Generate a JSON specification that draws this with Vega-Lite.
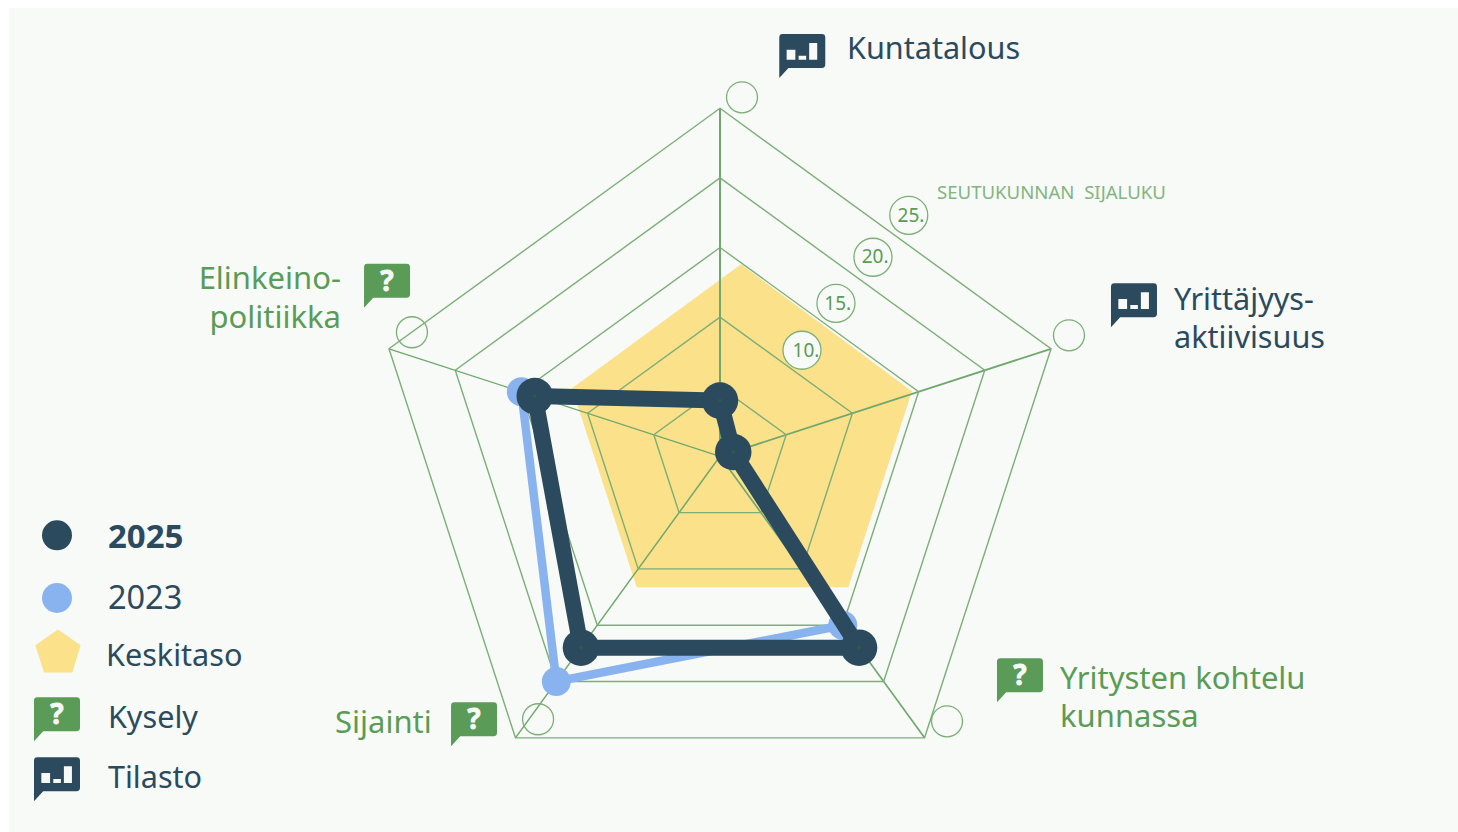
{
"$schema":"https://vega.github.io/schema/vega-lite/v6.json",
"width":1458,"height":832,"padding":0,
"autosize":{"type":"none"},
"background":"#ffffff",
"view":{"stroke":null},
"datasets":{
"panel":[{"x":-51.08,"x2":53.017,"y":32.18,"y2":-27.011}],
"average":[
{"i":1,"axis":"Kuntatalous","x":1.51,"y":13.79},
{"i":2,"axis":"Yrittäjyysaktiivisuus","x":13.79,"y":4.67},
{"i":3,"axis":"Yritysten kohtelu kunnassa","x":9.22,"y":-9.41},
{"i":4,"axis":"Sijainti","x":-5.98,"y":-9.41},
{"i":5,"axis":"Elinkeinopolitiikka","x":-10.63,"y":4.89}],
"legendAverage":[
{"i":1,"x":-47.56,"y":-12.45},
{"i":2,"x":-45.93,"y":-13.58},
{"i":3,"x":-46.53,"y":-15.54},
{"i":4,"x":-48.56,"y":-15.54},
{"i":5,"x":-49.19,"y":-13.58}],
"rings":[
{"ring":5,"i":1,"x":0,"y":5},{"ring":5,"i":2,"x":4.755,"y":1.545},{"ring":5,"i":3,"x":2.939,"y":-4.045},{"ring":5,"i":4,"x":-2.939,"y":-4.045},{"ring":5,"i":5,"x":-4.755,"y":1.545},
{"ring":10,"i":1,"x":0,"y":10},{"ring":10,"i":2,"x":9.511,"y":3.09},{"ring":10,"i":3,"x":5.878,"y":-8.09},{"ring":10,"i":4,"x":-5.878,"y":-8.09},{"ring":10,"i":5,"x":-9.511,"y":3.09},
{"ring":15,"i":1,"x":0,"y":15},{"ring":15,"i":2,"x":14.27,"y":4.635},{"ring":15,"i":3,"x":8.817,"y":-12.135},{"ring":15,"i":4,"x":-8.817,"y":-12.135},{"ring":15,"i":5,"x":-14.27,"y":4.635},
{"ring":20,"i":1,"x":0,"y":20},{"ring":20,"i":2,"x":19.02,"y":6.18},{"ring":20,"i":3,"x":11.756,"y":-16.18},{"ring":20,"i":4,"x":-11.756,"y":-16.18},{"ring":20,"i":5,"x":-19.02,"y":6.18},
{"ring":25,"i":1,"x":0,"y":25},{"ring":25,"i":2,"x":23.78,"y":7.725},{"ring":25,"i":3,"x":14.695,"y":-20.225},{"ring":25,"i":4,"x":-14.695,"y":-20.225},{"ring":25,"i":5,"x":-23.78,"y":7.725}],
"spokes":[
{"axis":"Kuntatalous","i":1,"x":0,"y":0},{"axis":"Kuntatalous","i":2,"x":0,"y":25},
{"axis":"Yrittäjyysaktiivisuus","i":1,"x":0,"y":0},{"axis":"Yrittäjyysaktiivisuus","i":2,"x":23.78,"y":7.725},
{"axis":"Yritysten kohtelu kunnassa","i":1,"x":0,"y":0},{"axis":"Yritysten kohtelu kunnassa","i":2,"x":14.695,"y":-20.225},
{"axis":"Sijainti","i":1,"x":0,"y":0},{"axis":"Sijainti","i":2,"x":-14.695,"y":-20.225},
{"axis":"Elinkeinopolitiikka","i":1,"x":0,"y":0},{"axis":"Elinkeinopolitiikka","i":2,"x":-23.78,"y":7.725}],
"y2023":[
{"axis":"Kuntatalous","rank":4,"i":1,"x":0,"y":4},
{"axis":"Yrittäjyysaktiivisuus","rank":1,"i":2,"x":0.951,"y":0.309},
{"axis":"Yritysten kohtelu kunnassa","rank":15,"i":3,"x":8.817,"y":-12.135},
{"axis":"Sijainti","rank":20,"i":4,"x":-11.756,"y":-16.18},
{"axis":"Elinkeinopolitiikka","rank":15,"i":5,"x":-14.27,"y":4.635}],
"y2025":[
{"axis":"Kuntatalous","rank":4,"i":1,"x":0,"y":4},
{"axis":"Yrittäjyysaktiivisuus","rank":1,"i":2,"x":0.951,"y":0.309},
{"axis":"Yritysten kohtelu kunnassa","rank":17,"i":3,"x":9.99,"y":-13.75},
{"axis":"Sijainti","rank":17,"i":4,"x":-9.99,"y":-13.75},
{"axis":"Elinkeinopolitiikka","rank":14,"i":5,"x":-13.31,"y":4.33}],
"emptyCircles":[
{"axis":"Kuntatalous","x":1.58,"y":25.79},
{"axis":"Yrittäjyysaktiivisuus","x":25.07,"y":8.69},
{"axis":"Yritysten kohtelu kunnassa","x":16.31,"y":-19.04},
{"axis":"Sijainti","x":-13.07,"y":-18.89},
{"axis":"Elinkeinopolitiikka","x":-22.13,"y":8.91}],
"rankCircles":[
{"x":13.56,"y":17.31},{"x":10.99,"y":14.30},{"x":8.33,"y":10.99},{"x":5.89,"y":7.62}],
"rankLabels":[
{"label":"25.","x":13.72,"y":16.83},{"label":"20.","x":11.14,"y":13.89},{"label":"15.","x":8.46,"y":10.49},{"label":"10.","x":6.18,"y":7.13}],
"bubblesGreen":[
{"name":"Yritysten kohtelu kunnassa","x":21.55,"y":-16.09},
{"name":"Sijainti","x":-17.67,"y":-19.25},
{"name":"Elinkeinopolitiikka","x":-23.92,"y":12.25},
{"name":"Kysely","x":-47.63,"y":-18.89}],
"questionMarks":[
{"label":"?","x":21.55,"y":-16.45},
{"label":"?","x":-17.67,"y":-19.61},
{"label":"?","x":-23.92,"y":11.89},
{"label":"?","x":-47.63,"y":-19.25}],
"bubblesDark":[
{"name":"Kuntatalous","x":5.91,"y":28.76},
{"name":"Yrittäjyysaktiivisuus","x":29.74,"y":10.85},
{"name":"Tilasto","x":-47.63,"y":-23.20}],
"darkText":[
{"label":"Kuntatalous","x":9.12,"y":28.52},
{"label":"Yrittäjyys-","x":32.62,"y":10.49},
{"label":"aktiivisuus","x":32.62,"y":7.76},
{"label":"Keskitaso","x":-44.11,"y":-15.09},
{"label":"Kysely","x":-43.97,"y":-19.54},
{"label":"Tilasto","x":-43.97,"y":-23.85}],
"yearText":[{"label":"2023","x":-43.97,"y":-10.99}],
"greenLeft":[
{"label":"Yritysten kohtelu","x":24.43,"y":-16.74},
{"label":"kunnassa","x":24.43,"y":-19.47},
{"label":"Sijainti","x":-27.66,"y":-19.90}],
"greenRight":[
{"label":"Elinkeino-","x":-27.23,"y":12.00},
{"label":"politiikka","x":-27.23,"y":9.23}],
"boldText":[{"label":"2025","x":-43.97,"y":-6.61}],
"axisTitle":[{"label":"SEUTUKUNNAN\u00a0\u00a0SIJALUKU","x":15.59,"y":18.46}],
"legend2025":[{"x":-47.63,"y":-5.68}],
"legend2023":[{"x":-47.63,"y":-10.18}]
},
"encoding":{
"x":{"field":"x","type":"quantitative","axis":null,"scale":{"domain":[-51.724,53.017],"nice":false,"zero":false}},
"y":{"field":"y","type":"quantitative","axis":null,"scale":{"domain":[-26.99,32.78],"nice":false,"zero":false}}
},
"layer":[
{"data":{"name":"panel"},"mark":{"type":"rect","fill":"#f7faf6"},"encoding":{"x2":{"field":"x2"},"y2":{"field":"y2"}}},
{"data":{"name":"average"},"mark":{"type":"line","interpolate":"linear-closed","fill":"#fae18a","stroke":"#fae18a","strokeWidth":0},"encoding":{"order":{"field":"i"}}},
{"data":{"name":"legendAverage"},"mark":{"type":"line","interpolate":"linear-closed","fill":"#fae18a","stroke":"#fae18a","strokeWidth":0},"encoding":{"order":{"field":"i"}}},
{"data":{"name":"spokes"},"mark":{"type":"line","stroke":"#6fa76c"},"encoding":{"detail":{"field":"axis"},"order":{"field":"i"},"strokeWidth":{"field":"axis","type":"nominal","legend":null,"scale":{"domain":["Kuntatalous","Yrittäjyysaktiivisuus","Yritysten kohtelu kunnassa","Sijainti","Elinkeinopolitiikka"],"range":[2,1.3,1.3,1.3,1.3]}}}},
{"data":{"name":"rings"},"mark":{"type":"line","interpolate":"linear-closed","stroke":"#7cae78","strokeWidth":1.4},"encoding":{"detail":{"field":"ring"},"order":{"field":"i"}}},
{"data":{"name":"emptyCircles"},"mark":{"type":"point","shape":"circle","filled":false,"stroke":"#7cae78","strokeWidth":1.3,"size":961,"opacity":1}},
{"data":{"name":"rankCircles"},"mark":{"type":"point","shape":"circle","filled":true,"fill":"#f7faf6","stroke":"#7cae78","strokeWidth":1.3,"size":1444,"opacity":1}},
{"data":{"name":"rankLabels"},"mark":{"type":"text","font":"Noto Sans","fontSize":19,"align":"center","baseline":"alphabetic","fill":"#5a9b57"},"encoding":{"text":{"field":"label"}}},
{"data":{"name":"axisTitle"},"mark":{"type":"text","font":"Noto Sans","fontSize":18.6,"align":"left","baseline":"alphabetic","fill":"#84b481"},"encoding":{"text":{"field":"label"}}},
{"data":{"name":"y2023"},"mark":{"type":"line","interpolate":"linear-closed","stroke":"#89b3ef","strokeWidth":8.5},"encoding":{"order":{"field":"i"}}},
{"data":{"name":"y2023"},"mark":{"type":"point","shape":"circle","filled":true,"fill":"#89b3ef","size":841,"opacity":1}},
{"data":{"name":"y2025"},"mark":{"type":"line","interpolate":"linear-closed","stroke":"#2c4a5e","strokeWidth":16},"encoding":{"order":{"field":"i"}}},
{"data":{"name":"y2025"},"mark":{"type":"point","shape":"circle","filled":true,"fill":"#2c4a5e","size":1332,"opacity":1}},
{"data":{"name":"y2025"},"mark":{"type":"point","shape":"circle","filled":true,"fill":"#2a5a50","size":14,"opacity":1}},
{"data":{"name":"legend2025"},"mark":{"type":"point","shape":"circle","filled":true,"fill":"#2c4a5e","size":900,"opacity":1}},
{"data":{"name":"legend2023"},"mark":{"type":"point","shape":"circle","filled":true,"fill":"#89b3ef","size":900,"opacity":1}},
{"data":{"name":"bubblesGreen"},"mark":{"type":"point","filled":true,"fill":"#5a9b57","opacity":1,"size":2116,"shape":"M-.85,-.957H.85Q1,-.957 1,-.807V.372Q1,.522 .85,.522H-.6L-1,.957V-.807Q-1,-.957 -.85,-.957Z"}},
{"data":{"name":"questionMarks"},"mark":{"type":"text","font":"Noto Sans","fontWeight":"bold","fontSize":28,"align":"center","baseline":"alphabetic","fill":"#f7faf6","stroke":"#f7faf6","strokeWidth":0.8},"encoding":{"text":{"field":"label"}}},
{"data":{"name":"bubblesDark"},"mark":{"type":"point","filled":true,"fill":"#2c4a5e","opacity":1,"size":2116,"shape":"M-.85,-.957H.85Q1,-.957 1,-.807V.372Q1,.522 .85,.522H-.6L-1,.957V-.807Q-1,-.957 -.85,-.957ZM-.68,-.27V.16H-.3V-.27ZM-.16,-.01V.16H.17V-.01ZM.3,-.565V.16H.65V-.565Z"}},
{"data":{"name":"darkText"},"mark":{"type":"text","font":"Noto Sans","fontSize":30.6,"align":"left","baseline":"alphabetic","fill":"#2c4a5e"},"encoding":{"text":{"field":"label"}}},
{"data":{"name":"yearText"},"mark":{"type":"text","font":"Noto Sans","fontSize":32.5,"align":"left","baseline":"alphabetic","fill":"#2c4a5e"},"encoding":{"text":{"field":"label"}}},
{"data":{"name":"boldText"},"mark":{"type":"text","font":"Noto Sans","fontWeight":"bold","fontSize":33,"align":"left","baseline":"alphabetic","fill":"#2c4a5e"},"encoding":{"text":{"field":"label"}}},
{"data":{"name":"greenLeft"},"mark":{"type":"text","font":"Noto Sans","fontSize":31,"align":"left","baseline":"alphabetic","fill":"#5a9b57"},"encoding":{"text":{"field":"label"}}},
{"data":{"name":"greenRight"},"mark":{"type":"text","font":"Noto Sans","fontSize":31,"align":"right","baseline":"alphabetic","fill":"#5a9b57"},"encoding":{"text":{"field":"label"}}}
]
}
